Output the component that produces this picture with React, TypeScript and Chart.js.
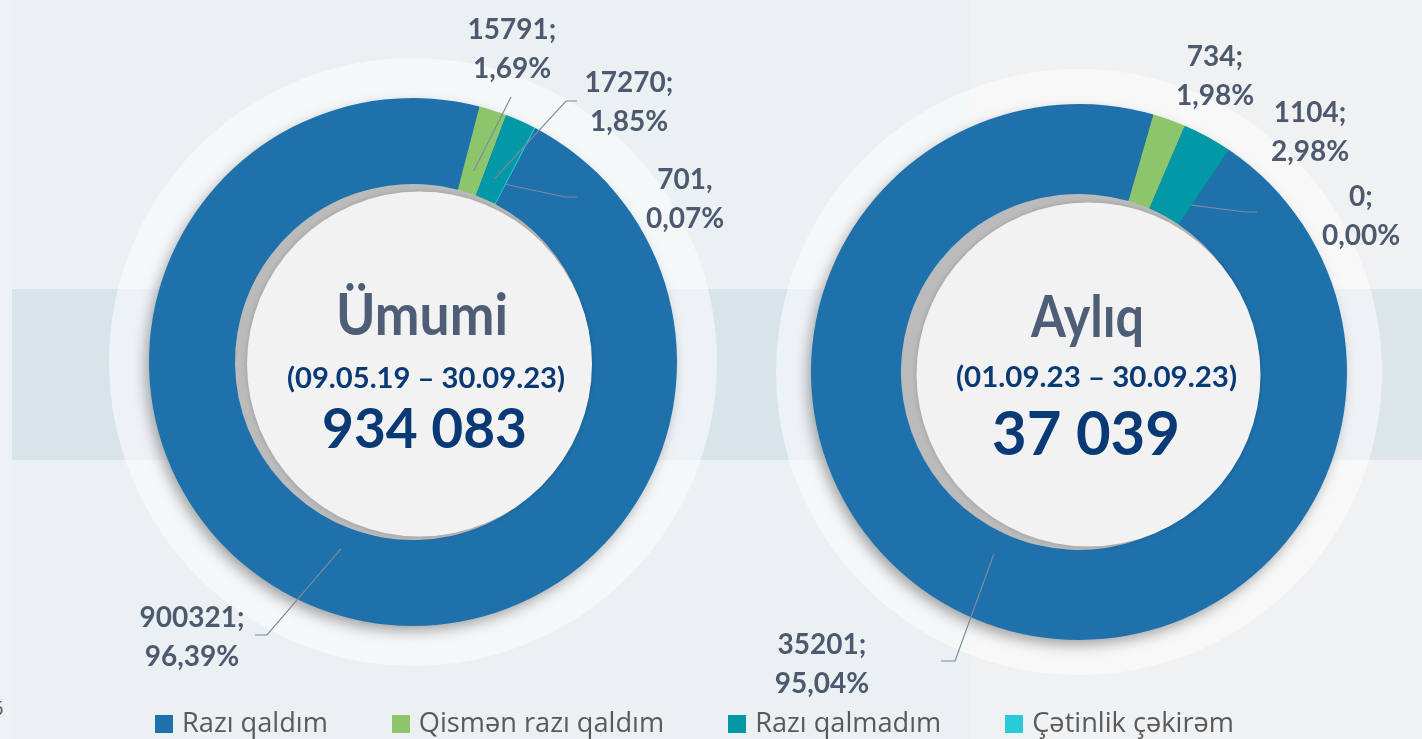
import React, { useEffect, useRef } from "react";
import { Chart, registerables } from "chart.js";

Chart.register(...registerables);

// ---------- data ----------
const categories = ["Razı qaldım", "Qismən razı qaldım", "Razı qalmadım", "Çətinlik çəkirəm"];
const sliceColors = ["#1F71AC", "#8DC56C", "#0398A6", "#28CCD6"];

const totalValues = [900321, 15791, 17270, 701];
const totalPercents = ["96,39%", "1,69%", "1,85%", "0,07%"];
const totalSeparators = [";", ";", ";", ","];

const monthlyValues = [35201, 734, 1104, 0];
const monthlyPercents = ["95,04%", "1,98%", "2,98%", "0,00%"];
const monthlySeparators = [";", ";", ";", ";"];

const chartTitles = ["Ümumi", "Aylıq"];
const chartPeriods = ["(09.05.19 – 30.09.23)", "(01.09.23 – 30.09.23)"];

// ---------- layout (positions / styles) ----------
type Pt = [number, number];
type Layout = {
  box: { left: number; top: number; width: number; height: number };
  padding: { left: number; right: number; top: number; bottom: number };
  radius: number;
  cutout: number;
  rotation: number;
  halo: number;
  holeOffset: Pt;
  holeRadius: number;
  labels: Pt[];
  leaders: (Pt[] | null)[];
  title: { dx: number; dy: number; width: number; size: number };
  period: { dx: number; dy: number; width: number; size: number };
  total: { dx: number; dy: number; width: number; size: number };
};

const leftLayout: Layout = {
  box: { left: 0, top: 0, width: 826, height: 724 },
  padding: { left: 149, right: 149, top: 98, bottom: 98 },
  radius: 264,
  cutout: 178,
  rotation: 27.6,
  halo: 304,
  holeOffset: [6.5, 2],
  holeRadius: 172.5,
  labels: [
    [-221, 256],
    [99, -332],
    [216, -279],
    [272, -182],
  ],
  leaders: [
    [[-146, 273], [-158, 273]],
    [[98, -265]],
    [[153, -261], [164, -261]],
    [[152, -165], [164, -165]],
  ],
  title: { dx: 9, dy: -27, width: 172, size: 58 },
  period: { dx: 13, dy: 26, width: 278, size: 29 },
  total: { dx: 11.5, dy: 86, width: 205, size: 56 },
};

const rightLayout: Layout = {
  box: { left: 736, top: 0, width: 686, height: 739 },
  padding: { left: 75, right: 75, top: 104, bottom: 99 },
  radius: 268,
  cutout: 178,
  rotation: 34,
  halo: 303,
  holeOffset: [9.5, 2.5],
  holeRadius: 172,
  labels: [
    [-257, 273],
    [136, -315],
    [231, -259],
    [282, -175],
  ],
  leaders: [
    [[-124, 289], [-138, 289]],
    null,
    null,
    [[166, -160], [178, -160]],
  ],
  title: { dx: 8.5, dy: -35, width: 113, size: 58 },
  period: { dx: 17.5, dy: 15, width: 281, size: 29 },
  total: { dx: 7, dy: 83, width: 188, size: 62 },
};

const LABEL_COLOR = "#4D596F";
const TITLE_COLOR = "#4F5E77";
const NAVY = "#0A3A76";
const LEADER_COLOR = "#7E8A9B";

function fitText(
  ctx: CanvasRenderingContext2D,
  text: string,
  x: number,
  y: number,
  font: string,
  color: string,
  width?: number
) {
  ctx.save();
  ctx.font = font;
  ctx.fillStyle = color;
  ctx.textAlign = "center";
  ctx.textBaseline = "alphabetic";
  const w = ctx.measureText(text).width;
  const s = width ? width / w : 1;
  ctx.translate(x, y);
  ctx.scale(s, 1);
  ctx.fillText(text, 0, 0);
  ctx.restore();
}

function Donut(props: {
  values: number[];
  percents: string[];
  separators: string[];
  title: string;
  period: string;
  layout: Layout;
}) {
  const ref = useRef<HTMLCanvasElement | null>(null);
  const { values, percents, separators, title, period, layout } = props;

  useEffect(() => {
    if (!ref.current) return;
    const total = values.reduce((a, b) => a + b, 0);
    const totalText = String(total).replace(/\B(?=(\d{3})+(?!\d))/g, " ");

    const decor = {
      id: "decor",
      beforeDatasetsDraw(chart: any) {
        const ctx: CanvasRenderingContext2D = chart.ctx;
        const arc = chart.getDatasetMeta(0).data[0];
        const { x, y, outerRadius, innerRadius } = arc;
        // halo
        ctx.save();
        ctx.fillStyle = "rgba(255,255,255,0.5)";
        ctx.beginPath();
        ctx.arc(x, y, layout.halo, 0, Math.PI * 2);
        ctx.fill();
        ctx.restore();
        // ring shadow
        ctx.save();
        ctx.shadowColor = "rgba(0,0,0,0.35)";
        ctx.shadowBlur = 14;
        ctx.shadowOffsetX = -4;
        ctx.shadowOffsetY = 6;
        ctx.fillStyle = sliceColors[0];
        ctx.beginPath();
        ctx.arc(x, y, outerRadius - 1, 0, Math.PI * 2);
        ctx.fill();
        ctx.restore();
        // hole (gray)
        ctx.save();
        ctx.fillStyle = "#BBBBBB";
        ctx.beginPath();
        ctx.arc(x, y, innerRadius + 1, 0, Math.PI * 2);
        ctx.fill();
        ctx.restore();
      },
      afterDatasetsDraw(chart: any) {
        const ctx: CanvasRenderingContext2D = chart.ctx;
        const meta = chart.getDatasetMeta(0);
        const arc0 = meta.data[0];
        const cx = arc0.x;
        const cy = arc0.y;
        // light inner disc
        ctx.save();
        ctx.shadowColor = "rgba(0,0,0,0.18)";
        ctx.shadowBlur = 5;
        ctx.fillStyle = "#F2F2F2";
        ctx.beginPath();
        ctx.arc(cx + layout.holeOffset[0], cy + layout.holeOffset[1], layout.holeRadius, 0, Math.PI * 2);
        ctx.fill();
        ctx.restore();

        // leader lines
        meta.data.forEach((arc: any, i: number) => {
          const pts = layout.leaders[i];
          if (!pts) return;
          const mid = (arc.startAngle + arc.endAngle) / 2;
          const r = arc.innerRadius + (arc.outerRadius - arc.innerRadius) * 0.26;
          ctx.save();
          ctx.strokeStyle = LEADER_COLOR;
          ctx.lineWidth = 1.2;
          ctx.beginPath();
          ctx.moveTo(cx + Math.cos(mid) * r, cy + Math.sin(mid) * r);
          pts.forEach((p) => ctx.lineTo(cx + p[0], cy + p[1]));
          ctx.stroke();
          ctx.restore();
        });

        // data labels
        ctx.save();
        ctx.font = "bold 28px Lato";
        ctx.fillStyle = LABEL_COLOR;
        ctx.textAlign = "center";
        ctx.textBaseline = "middle";
        values.forEach((v, i) => {
          const [dx, dy] = layout.labels[i];
          ctx.fillText(`${v}${separators[i]}`, cx + dx, cy + dy);
          ctx.fillText(percents[i], cx + dx, cy + dy + 39);
        });
        ctx.restore();

        // centre texts
        fitText(ctx, title, cx + layout.title.dx, cy + layout.title.dy, `bold ${layout.title.size}px Lato`, TITLE_COLOR, layout.title.width);
        fitText(ctx, period, cx + layout.period.dx, cy + layout.period.dy, `bold ${layout.period.size}px Lato`, NAVY, layout.period.width);
        fitText(ctx, totalText, cx + layout.total.dx, cy + layout.total.dy, `bold ${layout.total.size}px Lato`, NAVY, layout.total.width);
      },
    };

    const chart = new Chart(ref.current, {
      type: "doughnut",
      data: {
        labels: categories,
        datasets: [
          {
            data: values,
            backgroundColor: sliceColors,
            borderWidth: 0,
            hoverOffset: 0,
          },
        ],
      },
      options: {
        animation: false,
        responsive: false,
        rotation: layout.rotation,
        radius: layout.radius,
        cutout: layout.cutout,
        events: [],
        layout: { padding: layout.padding },
        plugins: {
          legend: { display: false },
          tooltip: { enabled: false },
        },
      } as any,
      plugins: [decor as any],
    });
    return () => chart.destroy();
  }, []);

  const b = layout.box;
  return (
    <canvas
      ref={ref}
      width={b.width}
      height={b.height}
      style={{ position: "absolute", left: b.left, top: b.top, width: b.width, height: b.height }}
    />
  );
}

export default function App() {
  return (
    <div
      style={{
        position: "fixed",
        left: 0,
        top: 0,
        width: 1422,
        height: 739,
        overflow: "hidden",
        background: "#EBF0F2",
      }}
    >
      <div style={{ position: "absolute", left: 970, top: 0, width: 452, height: 739, background: "#F0F1F3" }} />
      <div style={{ position: "absolute", left: 0, top: 0, width: 12, height: 739, background: "#EDF1F3" }} />
      <div style={{ position: "absolute", left: 12, top: 289, width: 958, height: 171, background: "#D8E4EA" }} />
      <div style={{ position: "absolute", left: 970, top: 289, width: 452, height: 171, background: "#DCE5EA" }} />
      <div
        style={{
          position: "absolute",
          left: -8,
          top: 694,
          fontFamily: "Open Sans",
          fontSize: 20,
          color: "#555",
        }}
      >
        6
      </div>

      <Donut
        values={totalValues}
        percents={totalPercents}
        separators={totalSeparators}
        title={chartTitles[0]}
        period={chartPeriods[0]}
        layout={leftLayout}
      />
      <Donut
        values={monthlyValues}
        percents={monthlyPercents}
        separators={monthlySeparators}
        title={chartTitles[1]}
        period={chartPeriods[1]}
        layout={rightLayout}
      />

      <div
        style={{
          position: "absolute",
          left: 155,
          top: 703,
          display: "flex",
          gap: 64,
          fontFamily: "Open Sans",
          fontSize: 27.2,
          lineHeight: "38px",
          color: "#595959",
          whiteSpace: "nowrap",
        }}
      >
        {categories.map((c, i) => (
          <div key={c} style={{ display: "flex", alignItems: "center" }}>
            <span
              style={{
                display: "inline-block",
                width: 18,
                height: 18,
                background: sliceColors[i],
                marginRight: 9,
                marginTop: 3,
              }}
            />
            <span>{c}</span>
          </div>
        ))}
      </div>
    </div>
  );
}
